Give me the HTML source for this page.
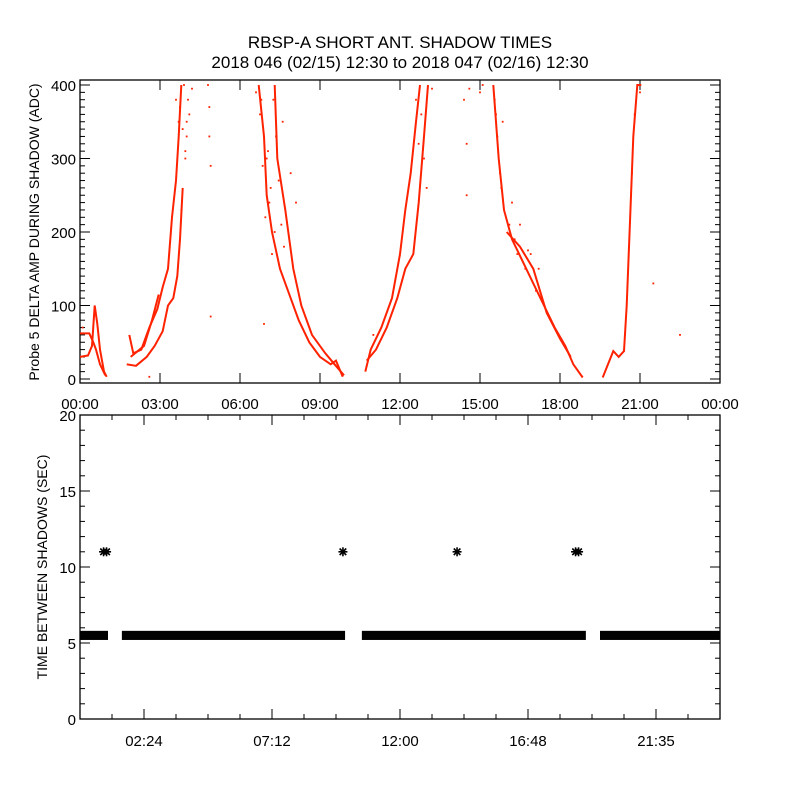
<!DOCTYPE html>
<html><head><meta charset="utf-8"><style>
html,body{margin:0;padding:0;background:#fff;}
svg{display:block;font-family:"Liberation Sans","DejaVu Sans",sans-serif;}
</style></head><body>
<svg id="chart" width="800" height="800" viewBox="0 0 800 800" xmlns="http://www.w3.org/2000/svg">
<rect width="800" height="800" fill="#fff"/>
<text x="400" y="48" text-anchor="middle" font-size="17">RBSP-A SHORT ANT. SHADOW TIMES</text>
<text x="400" y="68" text-anchor="middle" font-size="17">2018 046 (02/15) 12:30 to 2018 047 (02/16) 12:30</text>
<g id="topPanel"></g>
<g id="botPanel"></g>
</svg>
<script>
// ---- Top panel data: traces (hour, ADC) ----
const traceA1 = [[0,62],[0.35,62],[0.5,50],[0.6,40],[0.75,20],[0.95,5]];
const traceA2 = [[0,30],[0.3,32],[0.45,45],[0.55,100],[0.65,75],[0.75,40],[0.9,10],[1.0,3]];
const traceB1 = [[1.75,20],[2.1,18],[2.5,30],[2.8,45],[3.1,65],[3.3,100],[3.5,110],[3.65,140],[3.75,190],[3.85,260]];
const traceB2 = [[1.85,60],[2.0,35],[2.3,40],[2.6,70],[2.9,95],[3.1,125],[3.3,150],[3.45,220],[3.6,270],[3.7,330],[3.8,400]];
const traceB3 = [[1.9,30],[2.4,45],[2.7,80],[2.95,115]];
const traceC1 = [[6.7,400],[6.9,330],[7.0,250],[7.2,200],[7.5,150],[7.8,120],[8.2,80],[8.6,50],[9.0,30],[9.4,20],[9.6,25],[9.85,3]];
const traceC2 = [[7.3,400],[7.4,300],[7.7,230],[8.0,150],[8.3,100],[8.7,60],[9.2,35],[9.5,22],[9.9,5]];
const traceD1 = [[10.7,10],[10.9,40],[11.3,70],[11.7,110],[12.0,170],[12.2,230],[12.4,280],[12.6,350],[12.75,400]];
const traceD2 = [[10.75,25],[11.1,40],[11.5,70],[11.9,110],[12.2,150],[12.5,170],[12.7,240],[12.9,330],[13.05,400]];
const traceE1 = [[15.5,400],[15.7,300],[15.9,230],[16.2,190],[16.6,160],[17.0,130],[17.4,100],[17.8,70],[18.2,45],[18.5,20],[18.85,2]];
const traceE2 = [[16.0,200],[16.5,180],[17.0,150],[17.5,90],[18.0,55],[18.4,30]];
const traceF = [[19.6,2],[19.8,20],[20.0,38],[20.2,30],[20.4,38],[20.5,100],[20.6,190],[20.75,330],[20.9,400],[21.05,400]];
const scatterHours = [3.6,3.7,3.9,4.0,4.1,4.2,3.95,4.85,4.85,4.9,4.8,6.6,6.8,7.0,7.1,7.2,7.3,7.6,7.9,8.1,13.2,14.4,14.5,14.5,14.6,15.0,15.1,15.6,15.8,16.2,16.5,16.9,17.2,21.5,22.5,4.9,6.9,0.1,2.6,11.0,
  3.75,3.85,3.95,4.05,3.8,4.0,6.75,6.85,6.95,7.05,7.15,7.25,7.35,7.45,7.55,7.65,12.6,12.8,12.9,13.0,12.7,15.55,15.65,15.75,15.85,16.1,16.3,16.4,16.7,16.8,17.1,20.8,20.7,21.0];
const scatterValues = [380,350,400,330,360,395,300,370,330,290,400,390,380,300,240,170,200,350,280,240,395,380,320,250,395,390,400,360,260,240,210,170,150,130,60,85,75,70,3,60,
  370,340,310,380,230,350,360,290,220,310,260,380,330,270,210,180,380,360,300,260,320,380,330,280,350,210,190,170,150,175,120,360,280,390];
// ---- Bottom panel data ----
const bandStart = [0,1.57,10.57,19.5];
const bandEnd = [1.05,9.94,18.97,24];
const bandLow = 5.2, bandHigh = 5.8;
const starHours = [0.94,9.86,14.14,18.64];
const starValues = [11,11,11,11];
const starDouble = [true,false,false,true];
const topXTicks = ["00:00","03:00","06:00","09:00","12:00","15:00","18:00","21:00","00:00"];
const topYTicks = [0,100,200,300,400];
const botXTicks = ["02:24","07:12","12:00","16:48","21:35"];
const botYTicks = [0,5,10,15,20];

const NS="http://www.w3.org/2000/svg";
function mk(parent,tag,attrs){const e=document.createElementNS(NS,tag);for(const k in attrs)e.setAttribute(k,attrs[k]);parent.appendChild(e);return e;}
const X0=80,X1=720;
const xs=h=>X0+(h/24)*(X1-X0);
const TT=80,TB=383;
const ty=v=>379-v*0.735;
const BT=415,BB=719;
const by=v=>BB-(v/20)*(BB-BT);

const gTop=document.getElementById('topPanel');
const gBot=document.getElementById('botPanel');
const red="#ff2200";

function frame(g,t,b,name){
  const r=mk(g,'rect',{x:X0,y:t,width:X1-X0,height:b-t,fill:'none',stroke:'#000','stroke-width':1.3});
  
  
}
frame(gTop,TT,TB,'top-plot-frame');
frame(gBot,BT,BB,'bottom-plot-frame');

for(let v=0;v<=400;v+=10){
  const y=ty(v); const L=v%100===0?10:5;
  mk(gTop,'line',{x1:X0,x2:X0+L,y1:y,y2:y,stroke:'#000'});
  mk(gTop,'line',{x1:X1-L,x2:X1,y1:y,y2:y,stroke:'#000'});
}
topYTicks.forEach(v=>{
  const t=mk(gTop,'text',{x:76,y:ty(v)+6,'text-anchor':'end','font-size':15});
  t.textContent=v;
  
  
});
topXTicks.forEach((s,i)=>{
  const x=xs(i*3);
  mk(gTop,'line',{x1:x,x2:x,y1:TB,y2:TB-10,stroke:'#000'});
  mk(gTop,'line',{x1:x,x2:x,y1:TT,y2:TT+10,stroke:'#000'});
  const t=mk(gTop,'text',{x:x,y:409,'text-anchor':'middle','font-size':15});
  t.textContent=s;
  
  
});
const ytt=mk(gTop,'text',{x:0,y:0,'text-anchor':'middle','font-size':14,transform:'translate(39,232) rotate(-90)'});
ytt.textContent='Probe 5 DELTA AMP DURING SHADOW (ADC)';



const traces=[traceA1,traceA2,traceB1,traceB2,traceB3,traceC1,traceC2,traceD1,traceD2,traceE1,traceE2,traceF];
traces.forEach((tr,i)=>{
  const p=mk(gTop,'polyline',{points:tr.map(d=>xs(d[0]).toFixed(1)+','+ty(d[1]).toFixed(1)).join(' '),fill:'none',stroke:red,'stroke-width':2});
  
  
});
scatterHours.forEach((h,i)=>{
  const r=mk(gTop,'rect',{x:xs(h)-0.9,y:ty(scatterValues[i])-0.9,width:1.8,height:1.8,fill:red});
  
  
});

for(let v=0;v<=20;v++){
  const y=by(v); const L=v%5===0?10:5;
  mk(gBot,'line',{x1:X0,x2:X0+L,y1:y,y2:y,stroke:'#000'});
  mk(gBot,'line',{x1:X1-L,x2:X1,y1:y,y2:y,stroke:'#000'});
}
botYTicks.forEach(v=>{
  const t=mk(gBot,'text',{x:76,y:by(v)+6,'text-anchor':'end','font-size':15});
  t.textContent=v;
  
  
});
for(let k=1;k<20;k++){
  const h=k*1.2,x=xs(h); const L=(k%4===2)?10:5;
  mk(gBot,'line',{x1:x,x2:x,y1:BB,y2:BB-L,stroke:'#000'});
  mk(gBot,'line',{x1:x,x2:x,y1:BT,y2:BT+L,stroke:'#000'});
}
botXTicks.forEach((s,i)=>{
  const x=xs(2.4+4.8*i);
  const t=mk(gBot,'text',{x:x,y:746,'text-anchor':'middle','font-size':15});
  t.textContent=s;
  
  
});
const ybt=mk(gBot,'text',{x:0,y:0,'text-anchor':'middle','font-size':14,transform:'translate(47,567) rotate(-90)'});
ybt.textContent='TIME BETWEEN SHADOWS (SEC)';



bandStart.forEach((s,i)=>{
  const r=mk(gBot,'rect',{x:xs(s),y:by(bandHigh),width:xs(bandEnd[i])-xs(s),height:by(bandLow)-by(bandHigh),fill:'#000'});
  
  
});
starHours.forEach((h,i)=>{
  const offs=starDouble[i]?[-1.5,1.5]:[0];
  offs.forEach(o=>{
    const g=mk(gBot,'g',{transform:`translate(${xs(h)+o},${by(starValues[i])})`,stroke:'#000','stroke-width':1.6});
    
    
    mk(g,'line',{x1:-4.5,x2:4.5,y1:0,y2:0});
    mk(g,'line',{x1:0,x2:0,y1:-4.5,y2:4.5});
    mk(g,'line',{x1:-3.3,x2:3.3,y1:-3.3,y2:3.3});
    mk(g,'line',{x1:-3.3,x2:3.3,y1:3.3,y2:-3.3});
  });
});
</script>
</body></html>
